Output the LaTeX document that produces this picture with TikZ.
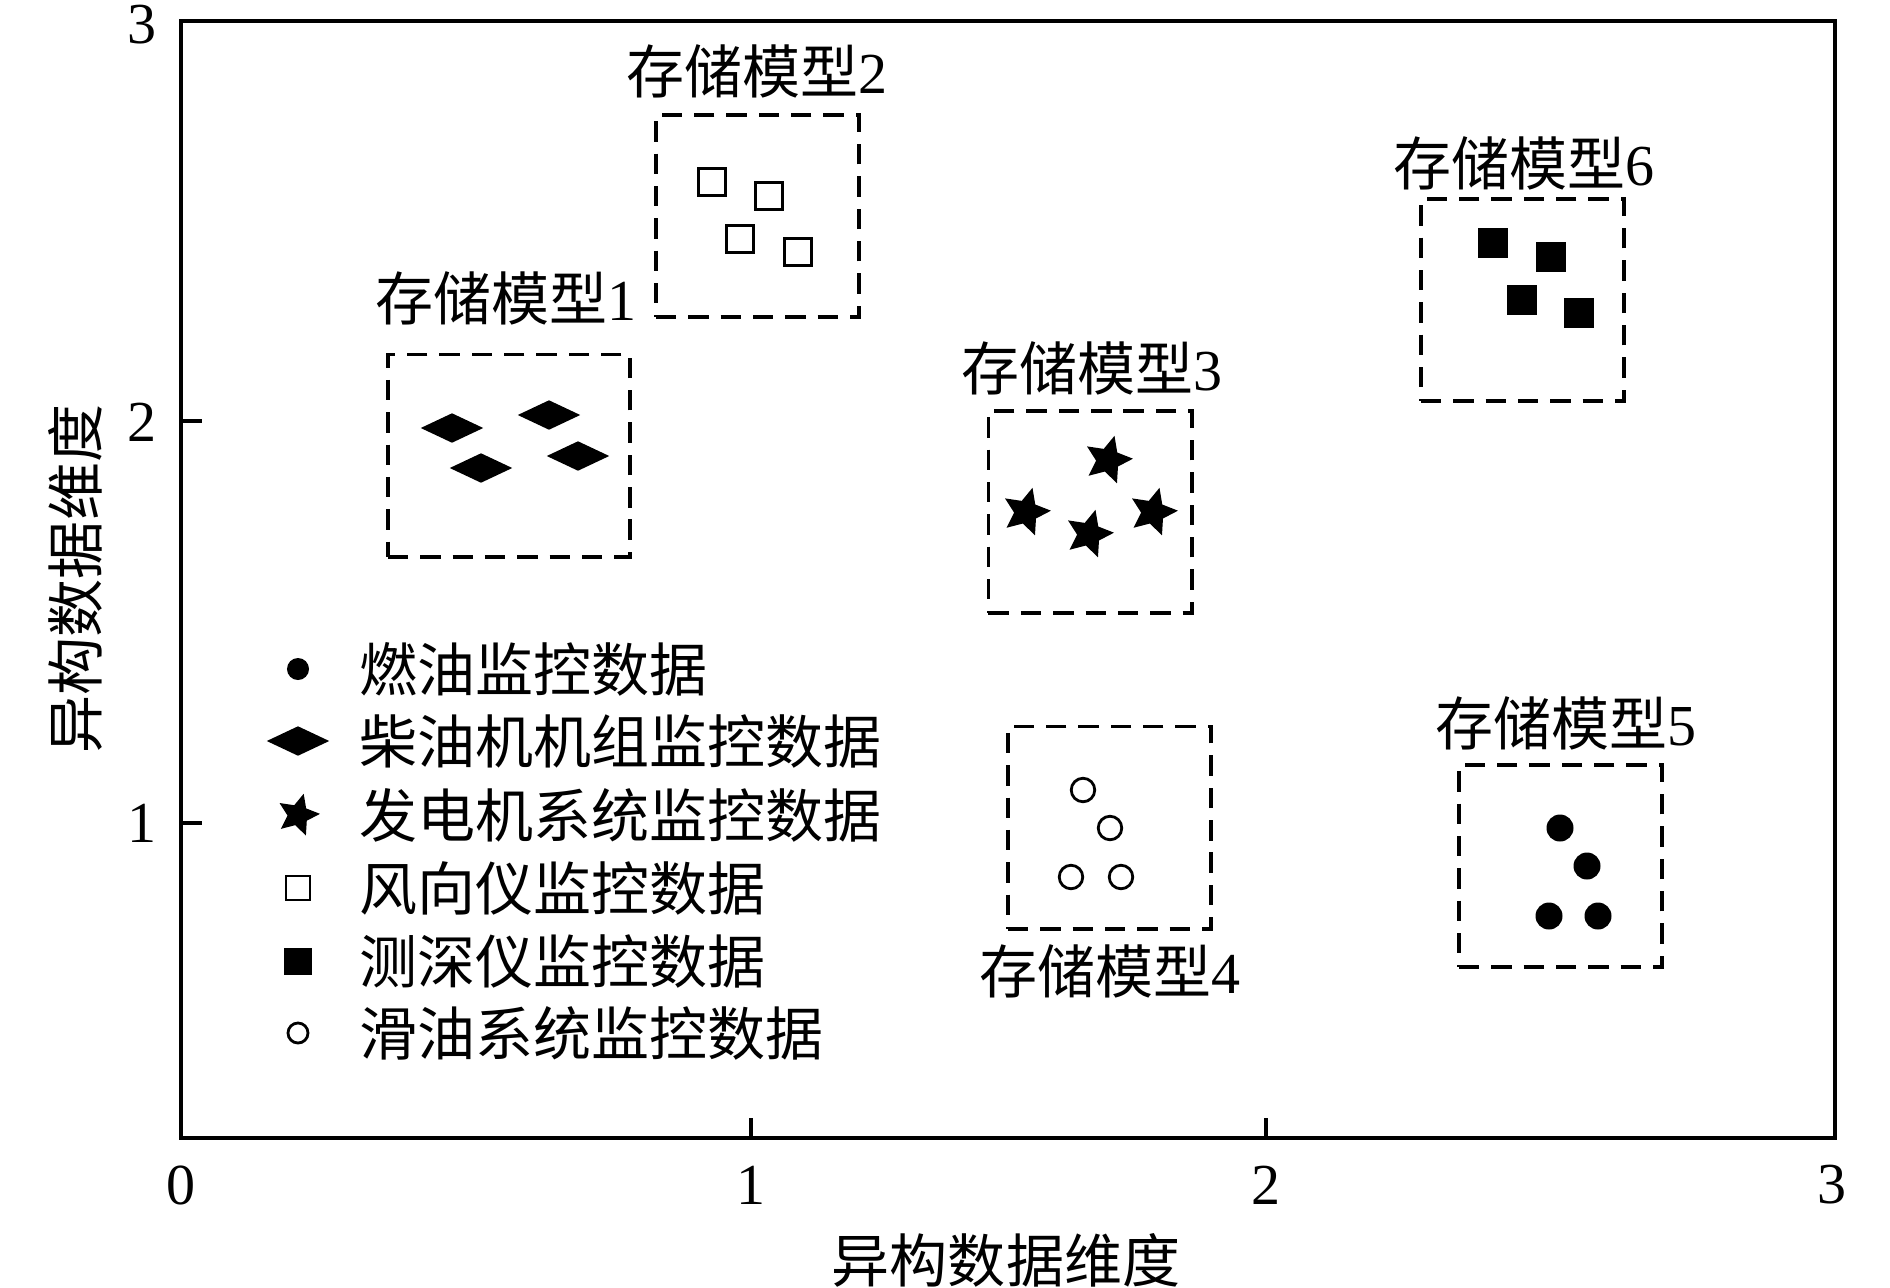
\documentclass[tikz,border=0pt]{standalone}
\usepackage{fontspec}
\setmainfont{Liberation Serif}
\newfontfamily\cjk{Noto Sans CJK SC}
\usetikzlibrary{shapes.geometric}
\newcommand{\modelname}[1]{{\cjk 存储模型}#1}
\tikzset{
  lbl/.style={font=\fontsize{16.5}{19}\selectfont,inner sep=0pt},
  axis/.style={line width=1pt},
  modelbox/.style={draw,line width=1.1pt,dash pattern=on 5.8pt off 3.4pt,inner sep=0pt,minimum width=2.03cm,minimum height=2.02cm},
  fuel/.style={circle,fill,inner sep=0pt,minimum size=0.27cm},
  diesel/.style={diamond,fill,inner sep=0pt,minimum width=0.63cm,minimum height=0.30cm},
  gen/.style={star,star points=5,star point ratio=2.1,fill,inner sep=0pt,minimum size=0.5cm,rotate=-15},
  wind/.style={rectangle,draw,line width=0.8pt,inner sep=0pt,minimum size=0.265cm},
  depth/.style={rectangle,fill,inner sep=0pt,minimum size=0.30cm},
  lube/.style={circle,draw,line width=0.8pt,inner sep=0pt,minimum size=0.235cm},
}
\begin{document}
\begin{tikzpicture}[x=0.01cm,y=-0.01cm]
        \useasboundingbox (0,0) rectangle (1890,1287);
        % frame and ticks
        \draw[axis] (181,21) rectangle (1835,1138);
        \draw[axis] (181,421) -- (202,421);
        \draw[axis] (181,823) -- (202,823);
        \draw[axis] (751,1138) -- (751,1118);
        \draw[axis] (1266,1138) -- (1266,1118);
        \node[lbl] (y3) at (142,25) {3};
        \node[lbl] (y2) at (142,422) {2};
        \node[lbl] (y1) at (142,823) {1};
        \node[lbl] (x0) at (181,1185) {0};
        \node[lbl] (x1) at (751,1185) {1};
        \node[lbl] (x2) at (1266,1185) {2};
        \node[lbl] (x3) at (1832,1185) {3};
        \node[lbl] (xtitle) at (1006,1260) {\cjk 异构数据维度};
        \node[lbl,rotate=90] (ytitle) at (75,579) {\cjk 异构数据维度};
        % storage models
        \node[modelbox,minimum width=2.42cm] (box1) at (509,455.5) {};
        \node[lbl] (name1) at (506,298) {\modelname{1}};
        \node[diesel] (d1) at (452,428) {};
        \node[diesel] (d2) at (549,415) {};
        \node[diesel] (d3) at (481,468) {};
        \node[diesel] (d4) at (578,456) {};
        \node[modelbox] (box2) at (757.5,216) {};
        \node[lbl] (name2) at (757,71) {\modelname{2}};
        \node[wind] (w1) at (712,182) {};
        \node[wind] (w2) at (769,196) {};
        \node[wind] (w3) at (740,239) {};
        \node[wind] (w4) at (798,252) {};
        \node[modelbox] (box3) at (1090,512) {};
        \node[lbl] (name3) at (1092,368) {\modelname{3}};
        \node[gen] (g1) at (1108,460) {};
        \node[gen] (g2) at (1026,512) {};
        \node[gen] (g3) at (1089,534) {};
        \node[gen] (g4) at (1153,512) {};
        \node[modelbox] (box4) at (1109.5,827.5) {};
        \node[lbl] (name4) at (1110,971) {\modelname{4}};
        \node[lube] (l1) at (1083,790) {};
        \node[lube] (l2) at (1110,828) {};
        \node[lube] (l3) at (1071,877) {};
        \node[lube] (l4) at (1121,877) {};
        \node[modelbox] (box5) at (1560.5,866) {};
        \node[lbl] (name5) at (1566,723) {\modelname{5}};
        \node[fuel] (f1) at (1560,828) {};
        \node[fuel] (f2) at (1587,866) {};
        \node[fuel] (f3) at (1549,916) {};
        \node[fuel] (f4) at (1598,916) {};
        \node[modelbox] (box6) at (1522.5,300) {};
        \node[lbl] (name6) at (1524,163) {\modelname{6}};
        \node[depth] (s1) at (1493,243) {};
        \node[depth] (s2) at (1551,257) {};
        \node[depth] (s3) at (1522,300) {};
        \node[depth] (s4) at (1579,313) {};
        % legend
        \node[fuel,minimum size=0.22cm] (kf) at (298,669) {};
        \node[diesel] (kd) at (298,741) {};
        \node[gen,minimum size=0.44cm] (kg) at (298,815) {};
        \node[wind,minimum size=0.24cm] (kw) at (298,888) {};
        \node[depth,minimum size=0.27cm] (ks) at (298,961) {};
        \node[lube,minimum size=0.2cm] (kl) at (298,1033) {};
        \node[lbl,anchor=west] (tf) at (359,669) {\cjk 燃油监控数据};
        \node[lbl,anchor=west] (td) at (359,741) {\cjk 柴油机机组监控数据};
        \node[lbl,anchor=west] (tg) at (359,815) {\cjk 发电机系统监控数据};
        \node[lbl,anchor=west] (tw) at (359,888) {\cjk 风向仪监控数据};
        \node[lbl,anchor=west] (ts) at (359,961) {\cjk 测深仪监控数据};
        \node[lbl,anchor=west] (tl) at (359,1033) {\cjk 滑油系统监控数据};
      \end{tikzpicture}
\end{document}
